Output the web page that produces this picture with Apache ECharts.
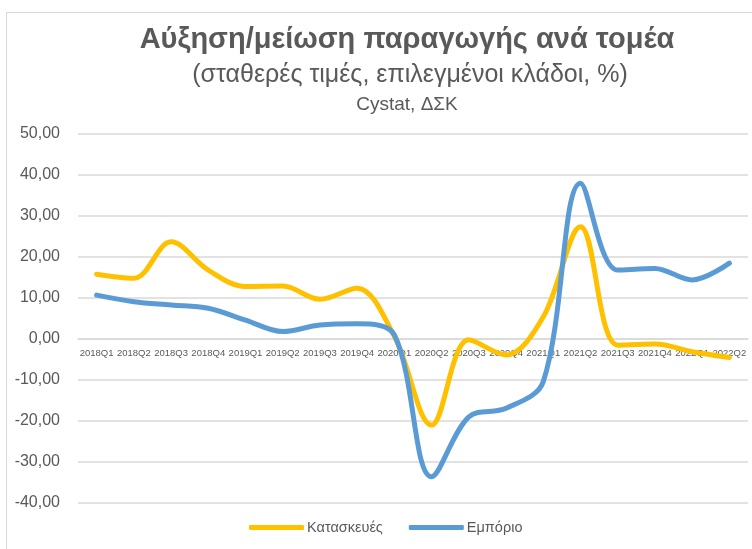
<!DOCTYPE html>
<html><head><meta charset="utf-8">
<script src="https://cdn.jsdelivr.net/npm/echarts@6/dist/echarts.min.js"></script>
<style>
html,body{margin:0;padding:0;background:#fff;}
#frame{position:absolute;left:6px;top:12px;width:760px;height:560px;border-left:1.5px solid #d9d9d9;border-top:1.5px solid #d9d9d9;}
#c{position:absolute;left:0;top:0;width:752px;height:549px;}
</style></head>
<body><div id="frame"></div><div id="c"></div>
<script>
const categories = ['2018Q1','2018Q2','2018Q3','2018Q4','2019Q1','2019Q2','2019Q3','2019Q4','2020Q1','2020Q2','2020Q3','2020Q4','2021Q1','2021Q2','2021Q3','2021Q4','2022Q1','2022Q2'];
const kataskeves = [15.8,14.8,23.7,16.8,12.8,12.9,9.7,12.4,0.6,-21.0,-0.2,-3.9,5.4,27.4,-1.5,-1.2,-3.1,-4.5];
const emporio = [10.7,9.1,8.3,7.5,4.6,1.8,3.4,3.7,1.0,-33.6,-19.0,-16.9,-10.4,38.0,16.8,17.2,14.4,18.5];
const yTicks = {min:-40, max:50, interval:10};
const FONT = 'Liberation Sans, Arial, sans-serif';
const chart = echarts.init(document.getElementById('c'));
chart.setOption({
  animation:false,
  backgroundColor:'transparent',
  title:[
    {text:'Αύξηση/μείωση παραγωγής ανά τομέα', left:402, textAlign:'center', top:20, textStyle:{fontFamily:FONT, fontSize:29, fontWeight:'bold', color:'#595959'}},
    {text:'(σταθερές τιμές, επιλεγμένοι κλάδοι, %)', left:405, textAlign:'center', top:58, textStyle:{fontFamily:FONT, fontSize:25, fontWeight:'normal', color:'#595959'}},
    {text:'Cystat, ΔΣΚ', left:402, textAlign:'center', top:90, textStyle:{fontFamily:FONT, fontSize:19, fontWeight:'normal', color:'#595959'}}
  ],
  legend:{top:515, left:244, itemWidth:55, itemHeight:5, itemGap:26, icon:'roundRect',
    textStyle:{fontFamily:FONT, fontSize:14.5, color:'#595959', padding:[0,0,0,-2]},
    data:['Κατασκευές','Εμπόριο']},
  grid:{left:78, right:4, top:134, bottom:46, containLabel:false},
  xAxis:{type:'category', data:categories, boundaryGap:true, offset:-164, z:0,
    axisLine:{onZero:false, lineStyle:{color:'#d9d9d9', width:1.5}},
    axisTick:{show:false},
    axisLabel:{interval:0, fontFamily:FONT, fontSize:9.5, color:'#595959', margin:9}},
  yAxis:{type:'value', min:yTicks.min, max:yTicks.max, interval:yTicks.interval,
    axisLine:{show:false}, axisTick:{show:false},
    splitLine:{lineStyle:{color:'#d9d9d9', width:1.5}},
    axisLabel:{fontFamily:FONT, fontSize:16, color:'#595959', margin:18,
      formatter:v=>v.toFixed(2).replace('.',',')}},
  series:[
    {name:'Κατασκευές', type:'line', data:kataskeves, smooth:0.35, symbol:'none', z:5,
      lineStyle:{color:'#FFC000', width:5, cap:'round'}, itemStyle:{color:'#FFC000'}},
    {name:'Εμπόριο', type:'line', data:emporio, smooth:0.35, symbol:'none', z:6,
      lineStyle:{color:'#5B9BD5', width:5, cap:'round'}, itemStyle:{color:'#5B9BD5'}}
  ]
});
</script></body></html>
